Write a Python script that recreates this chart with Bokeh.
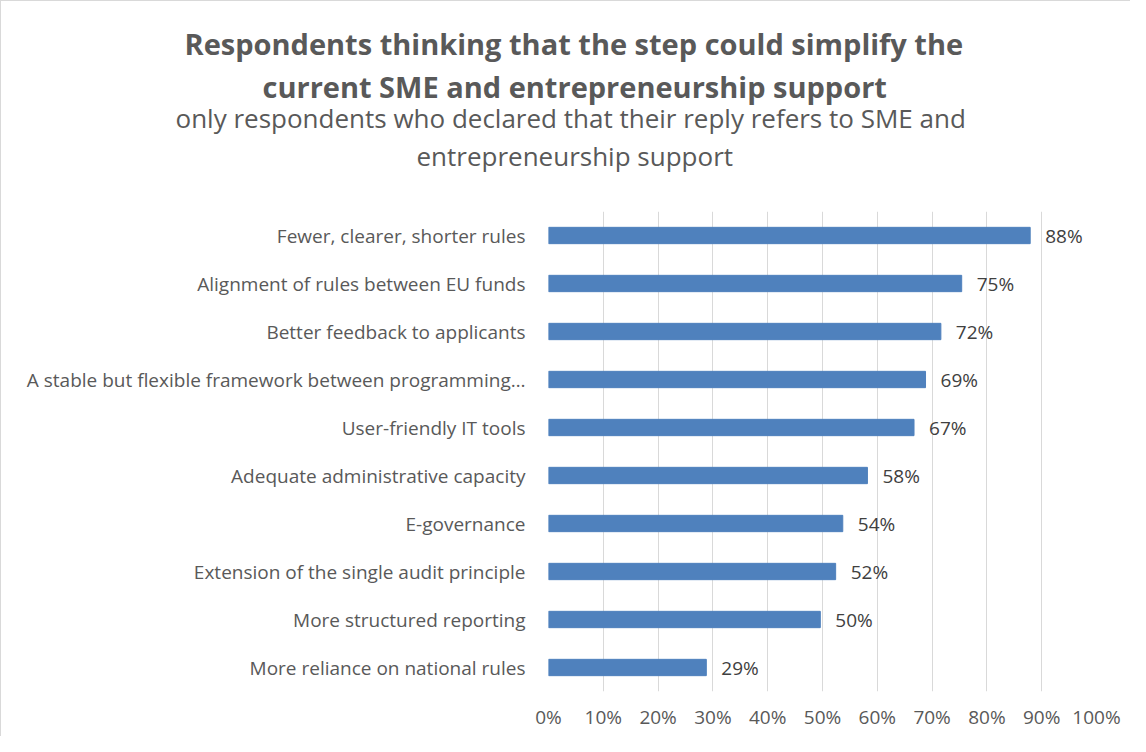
from bokeh.plotting import figure
from bokeh.models import ColumnDataSource, FixedTicker, Range1d, Title
from bokeh.core.properties import value
from bokeh.embed import file_html
from bokeh.resources import INLINE

categories = [
    "Fewer, clearer, shorter rules",
    "Alignment of rules between EU funds",
    "Better feedback to applicants",
    "A stable but flexible framework between programming\u2026",
    "User-friendly IT tools",
    "Adequate administrative capacity",
    "E-governance",
    "Extension of the single audit principle",
    "More structured reporting",
    "More reliance on national rules",
]
shares = [87.9, 75.4, 71.6, 68.8, 66.7, 58.2, 53.7, 52.4, 49.6, 28.8]
share_labels = [f"{round(v)}%" for v in shares]
x_ticks = [0, 10, 20, 30, 40, 50, 60, 70, 80, 90, 100]

title_lines = [
    "Respondents thinking that the step could  simplify the",
    "current SME and entrepreneurship support",
]
subtitle_lines = [
    "only respondents who declared that their reply refers to SME and",
    "entrepreneurship support",
]

FONT = "Open Sans"
GREY = "#595959"
BLUE = "#4F81BD"

src = ColumnDataSource(dict(cat=categories, val=shares, lab=share_labels))

p = figure(
    width=1130, height=736,
    y_range=list(reversed(categories)),
    x_range=Range1d(0, 100),
    output_backend="svg", toolbar_location=None,
    min_border_left=547, min_border_right=35,
    min_border_top=210, min_border_bottom=46,
)
p.title = None
p.styles = {"border-left": "1px solid #d9d9d9", "border-top": "1px solid #d9d9d9"}
p.outline_line_color = None

p.hbar(y="cat", right="val", left=0, height=0.34, source=src,
       fill_color=BLUE, line_color=BLUE, line_width=1)

p.text(x="val", y="cat", text="lab", source=src, x_offset=15,
       text_baseline="middle", text_align="left",
       text_font=value(FONT), text_font_size="19px", text_color="#404040")

p.xaxis.ticker = FixedTicker(ticks=x_ticks)
p.xaxis.major_label_overrides = {t: f"{t}%" for t in x_ticks}
p.xaxis.axis_line_color = None
p.xaxis.major_tick_line_color = None
p.xaxis.minor_tick_line_color = None
p.xaxis.major_label_standoff = 6
p.xaxis.major_label_text_font = FONT
p.xaxis.major_label_text_font_size = "19px"
p.xaxis.major_label_text_color = GREY

p.yaxis.axis_line_color = None
p.yaxis.major_tick_line_color = None
p.yaxis.minor_tick_line_color = None
p.yaxis.major_label_standoff = 17
p.yaxis.major_label_text_font = FONT
p.yaxis.major_label_text_font_size = "19px"
p.yaxis.major_label_text_color = GREY

p.xgrid.grid_line_color = "#d9d9d9"
p.xgrid.grid_line_width = 1
p.ygrid.grid_line_color = None

# heading: left-aligned titles shifted left of the frame so each line is centred on the chart
# (later-added titles stack above earlier ones); a tiny blank title adds the gap above the bars
p.add_layout(Title(text=" ", text_font_size="1px", standoff=35), "above")
sub_offsets = [-373, -132]
sub_standoffs = [0, 0]
for t, off, so in reversed(list(zip(subtitle_lines, sub_offsets, sub_standoffs))):
    p.add_layout(Title(text=t, align="left", offset=off,
                       text_font=FONT, text_font_style="normal",
                       text_font_size="26px", text_color=GREY,
                       standoff=so), "above")
title_offsets = [-364, -286]
title_standoffs = [20, -16]
for t, off, so in reversed(list(zip(title_lines, title_offsets, title_standoffs))):
    p.add_layout(Title(text=t, align="left", offset=off,
                       text_font=FONT, text_font_style="bold",
                       text_font_size="29px", text_color=GREY,
                       standoff=so), "above")

open("out.html", "w").write(file_html(p, INLINE))
